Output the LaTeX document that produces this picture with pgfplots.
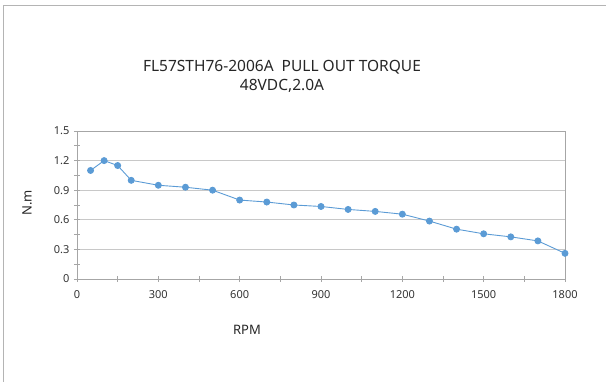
\documentclass[border=0pt]{standalone}
\usepackage{fontspec}
\setmainfont{Noto Sans}
\usepackage{pgfplots}
\pgfplotsset{compat=1.18}

\definecolor{linebl}{HTML}{5B9BD5}
\definecolor{gridgr}{HTML}{C8C8C8}
\definecolor{axgr}{HTML}{A6A6A6}
\definecolor{framegr}{HTML}{B4B4B4}

\begin{document}
\begin{tikzpicture}[x=1pt,y=1pt]
  \useasboundingbox (0,0) rectangle (606,382);
  % outer frame (cropped at right and bottom)
  \draw[framegr, line width=1.6pt] (3.5,0) -- (3.5,376.5) -- (606,376.5);

  \begin{axis}[
    at={(77pt,103pt)}, anchor=south west,
    scale only axis, width=488pt, height=148pt,
    xmin=0, xmax=1800, ymin=0, ymax=1.5,
    xtick={0,300,...,1800}, ytick={0,0.3,...,1.5},
    minor xtick={150,450,...,1650}, minor ytick={0.15,0.45,...,1.35},
    yticklabels={0,0.3,0.6,0.9,1.2,1.5},
    ymajorgrids, major grid style={gridgr, line width=0.9pt},
    axis line style={axgr, line width=0.9pt},
    tick style={axgr, line width=0.8pt},
    major tick length=6pt, minor tick length=6pt, tick align=center,
    xtick pos=bottom, ytick pos=left,
    tick label style={font=\fontsize{11}{13}\selectfont, text=black!80},
    /pgf/number format/assume math mode=true,
    /pgf/number format/1000 sep={},
    xticklabel style={yshift=-5pt},
    yticklabel style={xshift=-1pt},
    scaled y ticks=false,
  ]
    \addplot[linebl, line width=0.9pt, mark=*, mark size=3pt,
             mark options={fill=linebl, draw=linebl}]
      coordinates {
        (50,1.10) (100,1.20) (150,1.15) (200,1.00) (300,0.95) (400,0.93)
        (500,0.90) (600,0.80) (700,0.78) (800,0.75) (900,0.735) (1000,0.705)
        (1100,0.685) (1200,0.657) (1300,0.587) (1400,0.505) (1500,0.458)
        (1600,0.427) (1700,0.386) (1800,0.26)
      };
  \end{axis}

  \node[font=\fontsize{15.5}{18}\selectfont, text=black!85] at (282,315) {FL57STH76-2006A\ \ PULL OUT TORQUE};
  \node[font=\fontsize{15.5}{18}\selectfont, text=black!85] at (282,296) {48VDC,2.0A};
  \node[font=\fontsize{13}{15}\selectfont, text=black!85] at (247,52) {RPM};
  \node[font=\fontsize{13}{15}\selectfont, text=black!85, rotate=90] at (27,179) {N.m};
\end{tikzpicture}
\end{document}
